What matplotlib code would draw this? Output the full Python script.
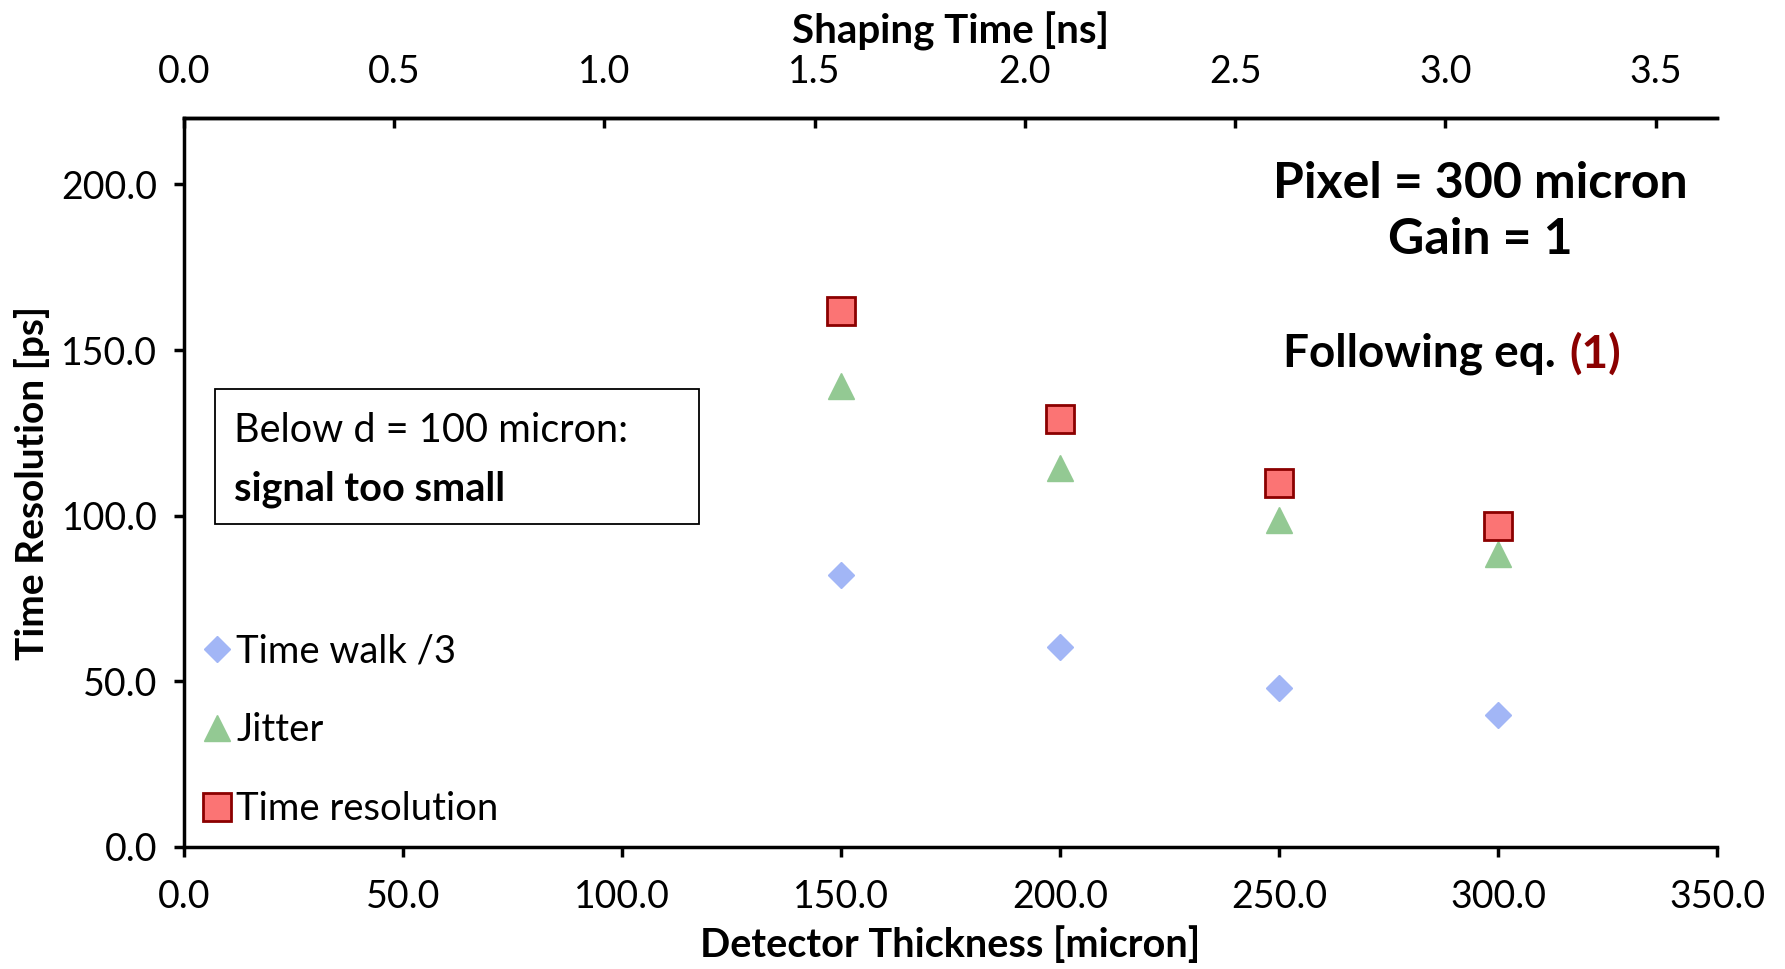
import numpy as np
import matplotlib
matplotlib.use('Agg')
import matplotlib.pyplot as plt
from matplotlib.patches import Rectangle

plt.rcParams['font.family'] = ['Lato', 'DejaVu Sans']

thickness = [150, 200, 250, 300]
time_walk = [82.1, 60.5, 48.1, 39.9]
jitter = [139.2, 114.4, 98.6, 88.3]
time_res = [161.9, 129.2, 110.0, 96.9]

bottom_ticks = [0, 50, 100, 150, 200, 250, 300, 350]
top_ticks = [0.0, 0.5, 1.0, 1.5, 2.0, 2.5, 3.0, 3.5]
y_ticks = [0, 50, 100, 150, 200]

fig = plt.figure(figsize=(17.85, 9.69), dpi=100)
ax = fig.add_axes([0.103, 0.126, 0.859, 0.752])

ax.plot(thickness, time_walk, linestyle='none', marker='D', markersize=13,
        color='#a2b6f6', markeredgecolor='#a2b6f6', label='Time walk /3')
ax.plot(thickness, jitter, linestyle='none', marker='^', markersize=19,
        color='#93c993', markeredgecolor='#93c993', label='Jitter')
ax.plot(thickness, time_res, linestyle='none', marker='s', markersize=20,
        color='#fb7474', markeredgecolor='#8b0000', markeredgewidth=2,
        label='Time resolution')

ax.set_xlim(0, 350)
ax.set_ylim(0, 220)
ax.set_xticks(bottom_ticks)
ax.set_xticklabels(['%.1f' % v for v in bottom_ticks])
ax.set_yticks(y_ticks)
ax.set_yticklabels(['%.1f' % v for v in y_ticks])
ax.tick_params(axis='both', direction='out', length=7, width=2.5, labelsize=27)
ax.tick_params(axis='x', pad=16)
ax.tick_params(axis='y', pad=12)
ax.spines['right'].set_visible(False)
for s in ['left', 'bottom', 'top']:
    ax.spines[s].set_linewidth(2.5)

ax.set_xlabel('Detector Thickness [micron]', fontsize=28.5, fontweight='bold', labelpad=8)
ax.set_ylabel('Time Resolution [ps]', fontsize=28, fontweight='bold', labelpad=8)

# top axis: shaping time
ax2 = ax.twiny()
ax2.set_xlim(0, 3.646)
ax2.set_xticks(top_ticks)
ax2.set_xticklabels(['%.1f' % v for v in top_ticks])
ax2.tick_params(axis='x', direction='in', length=7, width=2.5, labelsize=27, pad=20)
ax2.spines['right'].set_visible(False)
ax2.spines['top'].set_linewidth(2.5)
ax2.spines['left'].set_visible(False)
ax2.spines['bottom'].set_visible(False)
ax2.set_xlabel('Shaping Time [ns]', fontsize=29, fontweight='bold', labelpad=8)

# annotations
ax.text(295.9, 191.8, 'Pixel = 300 micron\nGain = 1', ha='center', va='center',
        fontsize=36, fontweight='bold', multialignment='center', linespacing=1.3)
ax.text(313.1, 148.8, 'Following eq.', ha='right', va='center', fontsize=33, fontweight='bold')
ax.text(316.2, 148.8, '(1)', ha='left', va='center', fontsize=33, fontweight='bold', color='#8b0000')

ax.add_patch(Rectangle((7.0, 97.6), 110.5, 40.5, fill=False, edgecolor='black', linewidth=1.3))
ax.text(11.4, 125.8, 'Below d = 100 micron:', ha='left', va='center', fontsize=28.5)
ax.text(11.4, 107.9, 'signal too small', ha='left', va='center', fontsize=28.5, fontweight='bold')

ax.legend(loc='lower left', bbox_to_anchor=(0.0, 0.0), frameon=False, fontsize=27.5,
          handlelength=0.7, handletextpad=0.15, labelspacing=1.12, borderaxespad=0.12,
          numpoints=1)

fig.savefig('out.png', dpi=100)
